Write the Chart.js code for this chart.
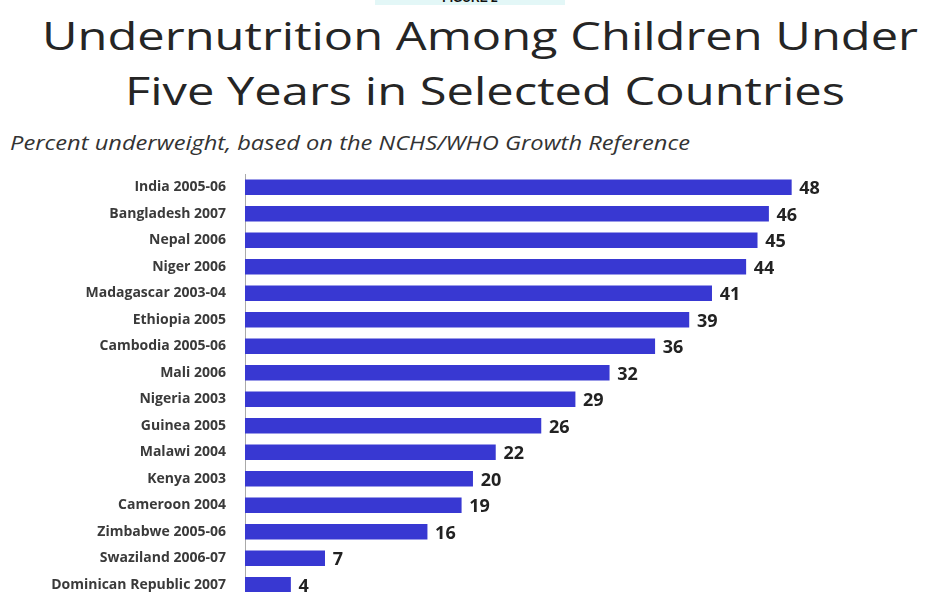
<!DOCTYPE html>
<html>
<head>
<meta charset="utf-8">
<script src="https://cdn.jsdelivr.net/npm/chart.js@4/dist/chart.umd.min.js"></script>
<style>
  html, body { margin:0; padding:0; width:928px; height:592px; overflow:hidden; background:#fff; }
  #fig { position:absolute; left:375px; top:-9px; width:190px; height:14px; background:#e3f7f7; text-align:center;
         font:bold 12px "Liberation Sans", Arial, sans-serif; color:#111; line-height:14px; }
  .txt { position:absolute; display:inline-block; white-space:nowrap; line-height:1; transform-origin:0 0; }
  #t1, #t2 { font-family:"Open Sans", Lato, sans-serif; font-size:39px; color:#252525; }
  #t1 { top:15px; }
  #t2 { top:70px; }
  #sub { top:133px; font-family:"Open Sans", Lato, sans-serif; font-style:italic; font-size:20px; color:#333; }
  #wrap { position:absolute; left:0; top:160px; width:928px; height:450px; }
</style>
</head>
<body>
<div id="fig">FIGURE 2</div>
<span class="txt" id="t1">Undernutrition Among Children Under</span>
<span class="txt" id="t2">Five Years in Selected Countries</span>
<span class="txt" id="sub">Percent underweight, based on the NCHS/WHO Growth Reference</span>
<div id="wrap"><canvas id="c"></canvas></div>
<script>
const categories = ["India 2005-06","Bangladesh 2007","Nepal 2006","Niger 2006","Madagascar 2003-04","Ethiopia 2005","Cambodia 2005-06","Mali 2006","Nigeria 2003","Guinea 2005","Malawi 2004","Kenya 2003","Cameroon 2004","Zimbabwe 2005-06","Swaziland 2006-07","Dominican Republic 2007"];
const underweight = [48,46,45,44,41,39,36,32,29,26,22,20,19,16,7,4];

// fit the stretched-looking title text into the reference's extents
function fit(id, left, width) {
  const el = document.getElementById(id);
  const w = el.getBoundingClientRect().width;
  el.style.left = left + 'px';
  el.style.transform = 'scaleX(' + (width / w) + ')';
}
fit('t1', 42, 876);
fit('t2', 125, 720);
fit('sub', 10, 680);

const labelPlugin = {
  id: 'valueLabels',
  afterDatasetsDraw(chart) {
    const ctx = chart.ctx;
    const meta = chart.getDatasetMeta(0);
    ctx.save();
    ctx.font = 'bold 18px "Open Sans", "DejaVu Sans", sans-serif';
    ctx.fillStyle = '#222';
    ctx.textAlign = 'left';
    ctx.textBaseline = 'middle';
    meta.data.forEach((bar, i) => {
      ctx.fillText(String(underweight[i]), bar.x + 8, bar.y + 2);
    });
    ctx.restore();
  }
};

new Chart(document.getElementById('c'), {
  type: 'bar',
  data: {
    labels: categories,
    datasets: [{
      data: underweight,
      backgroundColor: '#3838d2',
      barThickness: 15
    }]
  },
  options: {
    indexAxis: 'y',
    responsive: true,
    maintainAspectRatio: false,
    animation: false,
    layout: { padding: { top: 14, right: 57, bottom: 12, left: 0 } },
    plugins: { legend: { display: false }, tooltip: { enabled: false } },
    scales: {
      x: { display: false, min: 0, max: 55 },
      y: {
        grid: { display: false },
        border: { display: true, color: '#aaa', width: 1 },
        ticks: { color: '#3a3a3a', padding: 11, font: { family: '"Open Sans", sans-serif', size: 14, weight: 'bold' } },
        afterFit(scale) { scale.width = 245; scale.paddingTop = 0; scale.paddingBottom = 0; }
      }
    }
  },
  plugins: [labelPlugin]
});
</script>
</body>
</html>
